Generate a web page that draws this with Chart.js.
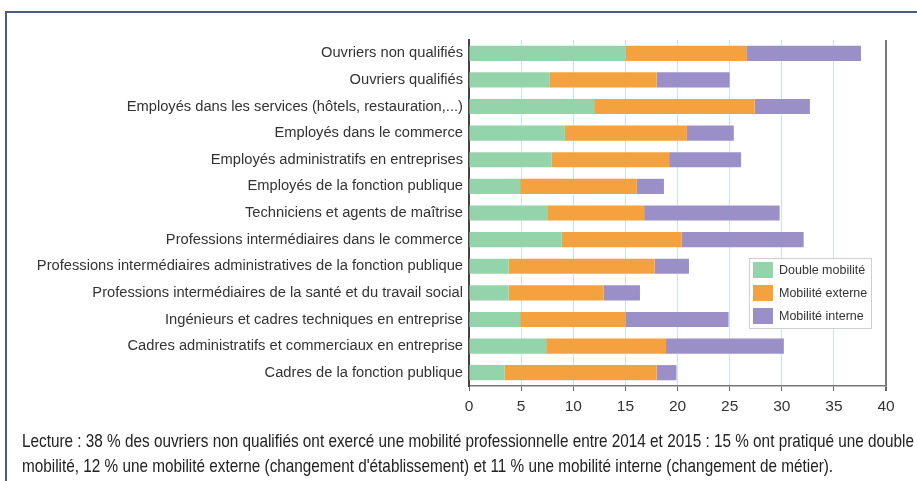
<!DOCTYPE html>
<html>
<head>
<meta charset="utf-8">
<script src="https://cdn.jsdelivr.net/npm/chart.js@4"></script>
<style>
  html, body { margin: 0; padding: 0; background: #fff; overflow: hidden; width: 917px; height: 481px; }
  #frame { position: absolute; left: 5px; top: 11px; width: 940px; height: 500px; border-left: 2px solid #4a5a82; border-top: 2px solid #4a5a82; box-sizing: border-box; }
  #wrap { position: absolute; left: 0; top: 0; width: 917px; height: 481px; }
  #note { position: absolute; left: 22px; top: 428px; font-family: "Liberation Sans", Arial, sans-serif; font-size: 18.5px; line-height: 25px; color: #222; white-space: nowrap; transform-origin: 0 0; }
</style>
</head>
<body>
<div id="frame"></div>
<div id="wrap"><canvas id="c" width="917" height="481"></canvas></div>
<div id="note"><span id="l1">Lecture : 38 % des ouvriers non qualifiés ont exercé une mobilité professionnelle entre 2014 et 2015 : 15 % ont pratiqué une double</span><br>mobilité, 12 % une mobilité externe (changement d'établissement) et 11 % une mobilité interne (changement de métier).</div>
<script>
const categories = [
  "Ouvriers non qualifiés",
  "Ouvriers qualifiés",
  "Employés dans les services (hôtels, restauration,...)",
  "Employés dans le commerce",
  "Employés administratifs en entreprises",
  "Employés de la fonction publique",
  "Techniciens et agents de maîtrise",
  "Professions intermédiaires dans le commerce",
  "Professions intermédiaires administratives de la fonction publique",
  "Professions intermédiaires de la santé et du travail social",
  "Ingénieurs et cadres techniques en entreprise",
  "Cadres administratifs et commerciaux en entreprise",
  "Cadres de la fonction publique"
];
const seriesNames = ["Double mobilité", "Mobilité externe", "Mobilité interne"];
const doubleMobilite = [15.0, 7.7, 12.0, 9.2, 7.9, 4.9, 7.5, 8.9, 3.8, 3.8, 4.9, 7.4, 3.4];
const mobiliteExterne = [11.6, 10.3, 15.4, 11.7, 11.3, 11.2, 9.3, 11.5, 14.0, 9.1, 10.1, 11.5, 14.6];
const mobiliteInterne = [11.0, 7.0, 5.3, 4.5, 6.9, 2.6, 13.0, 11.7, 3.3, 3.5, 9.9, 11.3, 1.9];
const xTicks = [0, 5, 10, 15, 20, 25, 30, 35, 40];

const colors = ["#94d4ab", "#f4a23f", "#9b8fc8"];
const FONT = '"Liberation Sans", Arial, sans-serif';

// condense footer text horizontally to the reference width
(function () {
  const note = document.getElementById('note');
  const w = document.getElementById('l1').getBoundingClientRect().width;
  note.style.transform = 'scaleX(' + (892 / w) + ')';
})();

const legendPlugin = {
  id: 'boxLegend',
  afterDraw(chart) {
    const ctx = chart.ctx;
    const x0 = 749, y0 = 258, w = 122, h = 70;
    ctx.save();
    ctx.fillStyle = '#fff';
    ctx.fillRect(x0, y0, w, h);
    ctx.strokeStyle = '#cfcfcf';
    ctx.lineWidth = 1;
    ctx.strokeRect(x0 + 0.5, y0 + 0.5, w, h);
    ctx.font = '12.5px ' + FONT;
    ctx.textBaseline = 'middle';
    chart.data.datasets.forEach((ds, i) => {
      const yy = y0 + 4 + i * 23;
      ctx.fillStyle = ds.backgroundColor;
      ctx.fillRect(x0 + 4, yy, 20, 16);
      ctx.fillStyle = '#333';
      ctx.fillText(ds.label, x0 + 30, yy + 8.5);
    });
    ctx.restore();
  }
};

new Chart(document.getElementById('c'), {
  type: 'bar',
  data: {
    labels: categories,
    datasets: [
      { label: seriesNames[0], data: doubleMobilite, backgroundColor: colors[0] },
      { label: seriesNames[1], data: mobiliteExterne, backgroundColor: colors[1] },
      { label: seriesNames[2], data: mobiliteInterne, backgroundColor: colors[2] }
    ]
  },
  options: {
    indexAxis: 'y',
    responsive: false,
    animation: false,
    barPercentage: 0.57,
    categoryPercentage: 1,
    layout: { padding: { top: 40, right: 31, bottom: 65, left: 0 } },
    plugins: { legend: { display: false }, tooltip: { enabled: false } },
    scales: {
      x: {
        stacked: true,
        min: 0, max: 40,
        afterBuildTicks(scale) { scale.ticks = xTicks.map(v => ({ value: v })); },
        afterFit(scale) { scale.height = 30; },
        grid: {
          color: c => (c.tick && c.tick.value === 40) ? '#7a7a7a' : '#c4e5f5',
          lineWidth: c => (c.tick && c.tick.value === 40) ? 2 : 1,
          tickColor: '#666',
          tickLength: 5
        },
        border: { display: true, color: '#777', width: 1.5 },
        ticks: { font: { family: FONT, size: 15.5 }, color: '#333', padding: 6 }
      },
      y: {
        stacked: true,
        afterFit(scale) { scale.width = 469; },
        grid: { display: false, drawTicks: false },
        border: { display: true, color: '#444', width: 2 },
        ticks: { font: { family: FONT, size: 14.7 }, color: '#333', padding: 6 }
      }
    }
  },
  plugins: [legendPlugin]
});
</script>
</body>
</html>
